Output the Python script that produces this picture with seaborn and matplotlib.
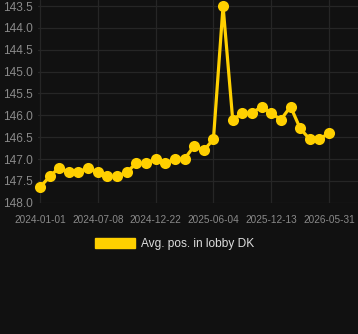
import matplotlib
matplotlib.use("Agg")
import matplotlib.pyplot as plt
import matplotlib.patches as mpatches
import seaborn as sns
import pandas as pd

dates = [
    "2024-01-01", "2024-02-01", "2024-03-04", "2024-04-05", "2024-05-06", "2024-06-06",
    "2024-07-08", "2024-08-05", "2024-09-02", "2024-09-30", "2024-10-28", "2024-11-25",
    "2024-12-22", "2025-01-18", "2025-02-14", "2025-03-13", "2025-04-10", "2025-05-08",
    "2025-06-04", "2025-07-06", "2025-08-07", "2025-09-08", "2025-10-10", "2025-11-11",
    "2025-12-13", "2026-01-10", "2026-02-07", "2026-03-07", "2026-04-04", "2026-05-02",
    "2026-05-31",
]
avg_pos = [
    147.65, 147.4, 147.2, 147.3, 147.3, 147.2,
    147.3, 147.4, 147.4, 147.3, 147.1, 147.1,
    147.0, 147.1, 147.0, 147.0, 146.7, 146.8,
    146.55, 143.5, 146.1, 145.95, 145.95, 145.8,
    145.95, 146.1, 145.8, 146.3, 146.55, 146.55,
    146.4,
]
tick_labels = ["2024-01-01", "2024-07-08", "2024-12-22", "2025-06-04", "2025-12-13", "2026-05-31"]
y_ticks = [143.5, 144.0, 144.5, 145.0, 145.5, 146.0, 146.5, 147.0, 147.5, 148.0]
series_name = "Avg. pos. in lobby DK"

BG = "#111111"
GRID = "#262626"
TICK = "#8a8a8a"
LINE = "#FFD000"

sns.set_style("dark")
plt.rcParams["font.family"] = ["Liberation Sans", "DejaVu Sans"]

df = pd.DataFrame({"date": dates, "pos": avg_pos})
df["idx"] = range(len(df))

fig = plt.figure(figsize=(3.58, 3.34), dpi=100, facecolor=BG)
ax = fig.add_axes([38 / 358, 1 - 202.7 / 334, 1 - 38 / 358, 202.7 / 334])
ax.set_facecolor(BG)

sns.lineplot(data=df, x="idx", y="pos", ax=ax, color=LINE, linewidth=2.3,
             marker="o", markersize=8, markeredgewidth=0, markerfacecolor=LINE,
             clip_on=False)

ax.set_xlim(-0.2, 33.0)
ax.set_ylim(148.0, 143.36)
tick_pos = [dates.index(t) for t in tick_labels]
ax.set_xticks(tick_pos)
ax.set_xticklabels(tick_labels)
ax.set_yticks(y_ticks)
ax.set_yticklabels([f"{v:.1f}" for v in y_ticks])
ax.grid(True, color=GRID, linewidth=0.9)
ax.set_axisbelow(True)
ax.tick_params(axis="x", colors=TICK, labelsize=7.2, length=0, pad=9)
ax.tick_params(axis="y", colors=TICK, labelsize=8.6, length=0, pad=4)
for lab in ax.get_xticklabels() + ax.get_yticklabels():
    lab.set_color(TICK)
ax.set_xlabel("")
ax.set_ylabel("")
for s in ax.spines.values():
    s.set_visible(False)

handle = mpatches.Patch(color=LINE, label=series_name)
leg = fig.legend(handles=[handle], loc="center", bbox_to_anchor=(0.487, 1 - 244 / 334),
                 frameon=False, fontsize=8.6, handlelength=3.35, handleheight=1.0,
                 handletextpad=0.5, labelcolor="#dddddd")

fig.savefig("out.png", dpi=100, facecolor=BG)
